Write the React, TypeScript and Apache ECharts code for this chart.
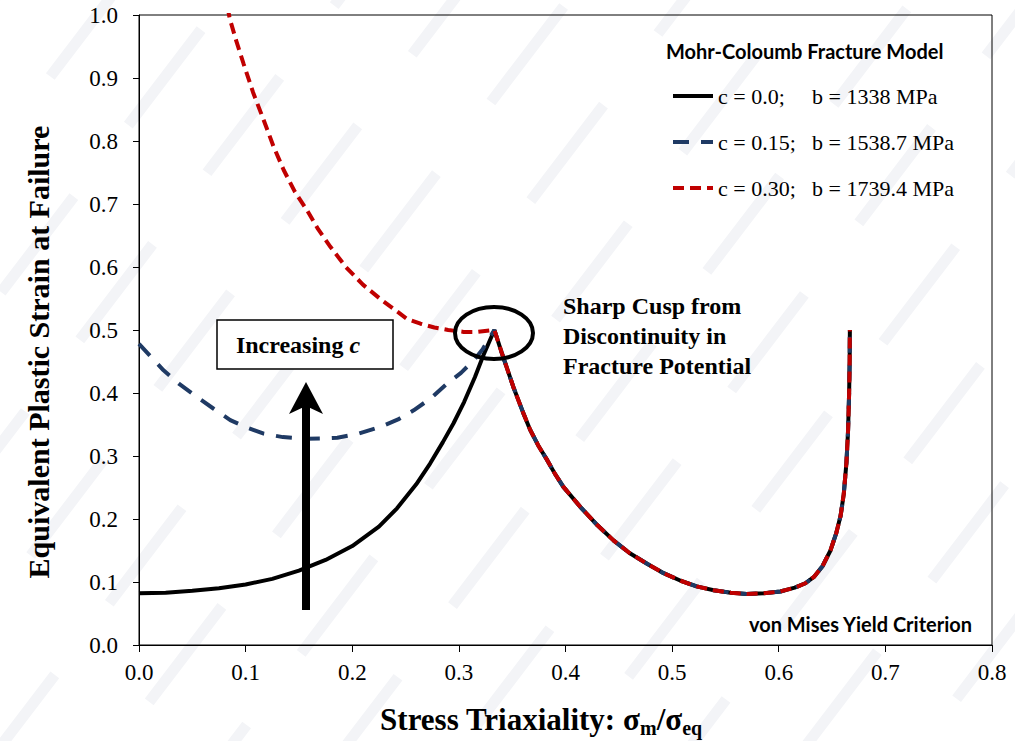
import React, { useEffect, useRef } from "react";
import * as echarts from "echarts";

// Points are [stress triaxiality, equivalent plastic strain at failure]
const blackLeft: [number, number][] = [
  [0.0, 0.082], [0.025, 0.083], [0.05, 0.086], [0.075, 0.09], [0.1, 0.096],
  [0.125, 0.105], [0.15, 0.118], [0.175, 0.135], [0.2, 0.157], [0.225, 0.188],
  [0.242, 0.217], [0.26, 0.255], [0.273, 0.288], [0.285, 0.322], [0.295, 0.352],
  [0.305, 0.386], [0.315, 0.425], [0.323, 0.46], [0.3333, 0.5],
];

const blueLeft: [number, number][] = [
  [0.0, 0.478], [0.012, 0.456], [0.023, 0.436], [0.038, 0.414], [0.054, 0.394],
  [0.07, 0.375], [0.0856, 0.357], [0.1, 0.346], [0.117, 0.3355], [0.135, 0.33],
  [0.1576, 0.3275], [0.175, 0.328], [0.186, 0.329], [0.205, 0.335], [0.226, 0.346],
  [0.243, 0.358], [0.2576, 0.3725], [0.274, 0.392], [0.289, 0.415], [0.302, 0.432],
  [0.314, 0.452], [0.3225, 0.47], [0.3296, 0.49], [0.3333, 0.5],
];

const redLeft: [number, number][] = [
  [0.08, 1.04], [0.085, 0.995], [0.091, 0.96], [0.098, 0.923], [0.107, 0.877],
  [0.117, 0.833], [0.126, 0.792], [0.1357, 0.754], [0.146, 0.72], [0.1576, 0.69],
  [0.168, 0.66], [0.1795, 0.632], [0.194, 0.6], [0.21, 0.572], [0.2265, 0.549],
  [0.24, 0.532], [0.251, 0.518], [0.264, 0.51], [0.277, 0.504], [0.29, 0.5],
  [0.3045, 0.497], [0.318, 0.497], [0.3333, 0.5],
];

// Branch common to every value of c (from the cusp to the von Mises end point)
const sharedRight: [number, number][] = [
  [0.3333, 0.5], [0.34, 0.465], [0.351, 0.41], [0.36, 0.37], [0.367, 0.341],
  [0.375, 0.315], [0.383, 0.293], [0.39, 0.272], [0.398, 0.251], [0.414, 0.219],
  [0.43, 0.19], [0.445, 0.166], [0.46, 0.146], [0.4765, 0.129], [0.492, 0.114],
  [0.508, 0.102], [0.523, 0.093], [0.539, 0.087], [0.555, 0.083], [0.57, 0.081],
  [0.586, 0.082], [0.6016, 0.085], [0.615, 0.091], [0.625, 0.098], [0.633, 0.108],
  [0.641, 0.125], [0.6485, 0.15], [0.654, 0.178], [0.658, 0.205], [0.661, 0.24],
  [0.6635, 0.29], [0.665, 0.34], [0.666, 0.4], [0.6665, 0.45], [0.6667, 0.5],
];

const seriesNames = [
  "c = 0.0;    b = 1338 MPa",
  "c = 0.15;  b = 1538.7 MPa",
  "c = 0.30;  b = 1739.4 MPa",
];

const xRange = { min: 0, max: 0.8, step: 0.1 };
const yRange = { min: 0, max: 1.0, step: 0.1 };

const SERIF = "'Liberation Serif', 'Times New Roman', serif";
const SANS = "Lato, 'Open Sans', sans-serif";

// Faint diagonal watermark bands behind the plot
function stripeGraphics() {
  const items: any[] = [];
  const dx = 760 / Math.tan((52 * Math.PI) / 180);
  for (let x0 = -700; x0 < 1100; x0 += 115) {
    items.push({
      type: "line",
      silent: true,
      z: -10,
      shape: { x1: x0, y1: 760, x2: x0 + dx, y2: -20 },
      style: {
        stroke: "#f3f4f7",
        lineWidth: 11,
        lineDash: [120, 90],
        lineDashOffset: Math.abs(x0 * 1.3) % 210,
      },
    });
  }
  return items;
}

export default function App() {
  const ref = useRef<HTMLDivElement>(null);

  useEffect(() => {
    if (!ref.current) return;
    const chart = echarts.init(ref.current, undefined, { renderer: "svg" });

    const option: any = {
      animation: false,
      backgroundColor: "#ffffff",
      grid: {
        left: 139,
        right: 23,
        top: 15,
        bottom: 96,
        show: true,
        borderColor: "#000",
        borderWidth: 1,
        backgroundColor: "transparent",
      },
      legend: {
        orient: "vertical",
        left: 666,
        top: 80,
        itemWidth: 40,
        itemHeight: 20,
        itemGap: 24,
        data: seriesNames,
        itemStyle: { opacity: 0 },
        lineStyle: { width: 4 },
        formatter: (name: string) => {
          const i = name.indexOf(";");
          return `{a|${name.slice(0, i + 1)}}{b|${name.slice(i + 1).trim()}}`;
        },
        textStyle: {
          fontFamily: SERIF,
          fontSize: 22,
          color: "#000",
          rich: {
            a: { fontFamily: SERIF, fontSize: 22, color: "#000", width: 94, lineHeight: 20 },
            b: { fontFamily: SERIF, fontSize: 22, color: "#000", lineHeight: 20 },
          },
        },
      },
      xAxis: {
        type: "value",
        min: xRange.min,
        max: xRange.max,
        interval: xRange.step,
        splitLine: { show: false },
        axisLine: { show: true, onZero: false, lineStyle: { color: "#000", width: 1 } },
        axisTick: { show: true, inside: false, length: 7, lineStyle: { color: "#000" } },
        axisLabel: {
          margin: 16,
          fontFamily: SERIF,
          fontSize: 23,
          color: "#000",
          formatter: (v: number) => v.toFixed(1),
        },
      },
      yAxis: {
        type: "value",
        min: yRange.min,
        max: yRange.max,
        interval: yRange.step,
        splitLine: { show: false },
        axisLine: { show: true, onZero: false, lineStyle: { color: "#000", width: 1 } },
        axisTick: { show: true, inside: false, length: 6, lineStyle: { color: "#000" } },
        axisLabel: {
          margin: 21,
          fontFamily: SERIF,
          fontSize: 23,
          color: "#000",
          formatter: (v: number) => v.toFixed(1),
        },
      },
      series: [
        {
          name: seriesNames[0],
          type: "line",
          data: [...blackLeft, ...sharedRight.slice(1)],
          showSymbol: false,
          symbol: "none",
          clip: true,
          lineStyle: { color: "#000000", width: 4, type: "solid" },
          itemStyle: { color: "#000000" },
          z: 2,
        },
        {
          name: seriesNames[1],
          type: "line",
          data: [...blueLeft, ...sharedRight.slice(1)],
          showSymbol: false,
          symbol: "none",
          clip: true,
          lineStyle: { color: "#1F3A64", width: 4, type: [16, 12] },
          itemStyle: { color: "#1F3A64" },
          z: 3,
        },
        {
          name: seriesNames[2],
          type: "line",
          data: [...redLeft, ...sharedRight.slice(1)],
          showSymbol: false,
          symbol: "none",
          clip: true,
          lineStyle: { color: "#C00000", width: 4, type: [11, 6] },
          itemStyle: { color: "#C00000" },
          z: 4,
        },
      ],
      graphic: [
        ...stripeGraphics(),
        {
          type: "text",
          x: 666,
          y: 51,
          z: 10,
          style: {
            text: "Mohr-Coloumb Fracture Model",
            fontFamily: SANS,
            fontWeight: "bold",
            fontSize: 20,
            fill: "#000",
            align: "left",
            verticalAlign: "middle",
          },
        },
        {
          type: "text",
          x: 972,
          y: 624,
          z: 10,
          style: {
            text: "von Mises Yield Criterion",
            fontFamily: SANS,
            fontWeight: "bold",
            fontSize: 20,
            fill: "#000",
            align: "right",
            verticalAlign: "middle",
          },
        },
        {
          type: "text",
          x: 563,
          y: 336,
          z: 10,
          style: {
            text: "Sharp Cusp from\nDiscontinuity in\nFracture Potential",
            fontFamily: SERIF,
            fontWeight: "bold",
            fontSize: 24,
            lineHeight: 30,
            fill: "#000",
            align: "left",
            verticalAlign: "middle",
          },
        },
        {
          type: "ellipse",
          z: 10,
          shape: { cx: 494, cy: 333, rx: 39, ry: 26 },
          style: { fill: "none", stroke: "#000", lineWidth: 4 },
        },
        {
          type: "rect",
          z: 10,
          shape: { x: 217, y: 320, width: 176, height: 49 },
          style: { fill: "#fff", stroke: "#000", lineWidth: 1.5 },
        },
        {
          type: "text",
          x: 298,
          y: 345,
          z: 11,
          style: {
            text: "{n|Increasing }{i|c}",
            align: "center",
            verticalAlign: "middle",
            rich: {
              n: { fontFamily: SERIF, fontWeight: "bold", fontSize: 24, fill: "#000" },
              i: { fontFamily: SERIF, fontWeight: "bold", fontStyle: "italic", fontSize: 24, fill: "#000" },
            },
          },
        },
        {
          type: "line",
          z: 10,
          shape: { x1: 306, y1: 610, x2: 306, y2: 402 },
          style: { stroke: "#000", lineWidth: 8 },
        },
        {
          type: "polygon",
          z: 10,
          shape: { points: [[306, 382], [323, 414], [306, 406], [289, 414]] },
          style: { fill: "#000" },
        },
        {
          type: "text",
          x: 38,
          y: 352,
          rotation: Math.PI / 2,
          z: 10,
          style: {
            text: "Equivalent Plastic Strain at Failure",
            fontFamily: SERIF,
            fontWeight: "bold",
            fontSize: 30,
            fill: "#000",
            align: "center",
            verticalAlign: "middle",
          },
        },
        {
          type: "text",
          x: 541,
          y: 721,
          z: 10,
          style: {
            text: "{b|Stress Triaxiality: σ}{s|m}{b|/σ}{s|eq}",
            align: "center",
            verticalAlign: "middle",
            rich: {
              b: { fontFamily: SERIF, fontWeight: "bold", fontSize: 31, fill: "#000", lineHeight: 34, verticalAlign: "top" },
              s: { fontFamily: SERIF, fontWeight: "bold", fontSize: 20, fill: "#000", lineHeight: 20, verticalAlign: "bottom" },
            },
          },
        },
      ],
    };

    chart.setOption(option);
    return () => chart.dispose();
  }, []);

  return (
    <div
      ref={ref}
      style={{ position: "absolute", left: 0, top: 0, width: 1015, height: 741 }}
    />
  );
}
